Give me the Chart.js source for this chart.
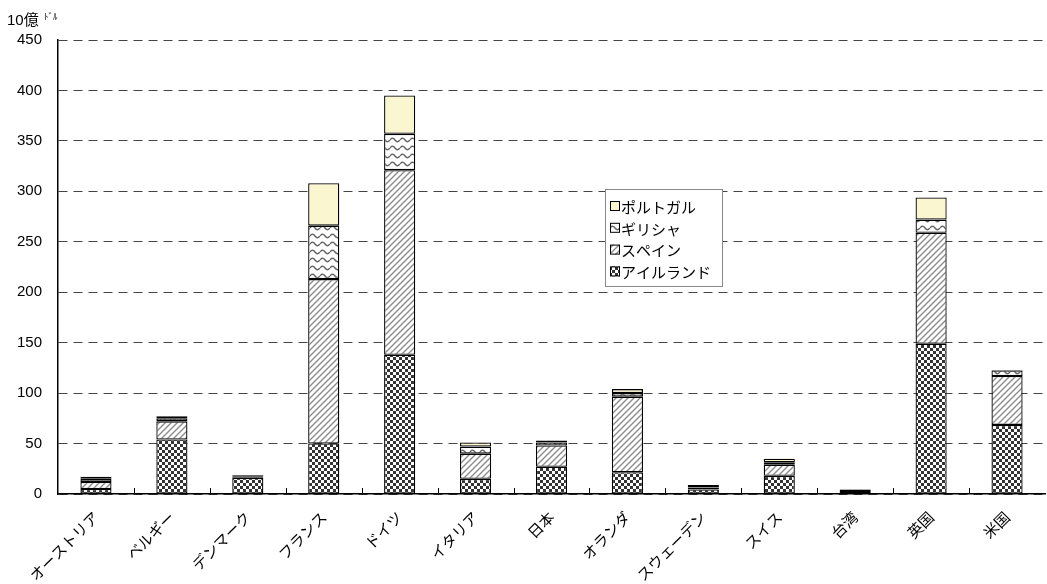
<!DOCTYPE html>
<html>
<head>
<meta charset="utf-8">
<script src="https://cdn.jsdelivr.net/npm/chart.js@4/dist/chart.umd.min.js"></script>
<style>
  html, body { margin: 0; padding: 0; background: #fff; }
  #wrap { width: 1047px; height: 584px; position: relative; }
</style>
</head>
<body>
<div id="wrap"><canvas id="c" width="1047" height="584"></canvas></div>
<script>
// カテゴリ
const countries = ["オーストリア", "ベルギー", "デンマーク", "フランス", "ドイツ", "イタリア", "日本", "オランダ", "スウェーデン", "スイス", "台湾", "英国", "米国"];

// 系列（10億ドル）
const ireland  = [5, 54, 16, 50, 138, 15, 27, 21.5, 4.5, 18, 3, 149, 68.5];
const spain    = [7, 18, 1.5, 163, 183, 25, 21, 75, 2, 11, 1, 110, 48.5];
const greece   = [3, 3, 0.7, 53, 36, 7, 3, 3.5, 1.5, 2.5, 0.3, 13, 5.5];
const portugal = [2, 2, 0.7, 42, 38, 4, 2, 4, 1, 3.5, 0.3, 22, 0.5];

const yTicks = [0, 50, 100, 150, 200, 250, 300, 350, 400, 450];

const FONT = "'Liberation Sans', 'Noto Sans CJK JP', sans-serif";

function makePattern(w, h, draw) {
  const c = document.createElement("canvas");
  c.width = w; c.height = h;
  const g = c.getContext("2d");
  g.fillStyle = "#fff";
  g.fillRect(0, 0, w, h);
  draw(g);
  return g.createPattern(c, "repeat");
}

// アイルランド: 市松模様
const checker = makePattern(6, 6, g => {
  g.fillStyle = "#333";
  g.fillRect(0, 0, 3, 3);
  g.fillRect(3, 3, 3, 3);
});

// スペイン: 斜線
const hatch = makePattern(6, 6, g => {
  g.strokeStyle = "#8c8c8c";
  g.lineWidth = 1.4;
  g.beginPath();
  g.moveTo(-1, 7); g.lineTo(7, -1);
  g.moveTo(-4, 4); g.lineTo(4, -4);
  g.moveTo(2, 10); g.lineTo(10, 2);
  g.stroke();
});

// ギリシャ: 波線
const wave = makePattern(10, 8, g => {
  g.strokeStyle = "#666";
  g.lineWidth = 1.4;
  g.beginPath();
  g.moveTo(0, 4);
  g.quadraticCurveTo(2.5, 0.5, 5, 4);
  g.quadraticCurveTo(7.5, 7.5, 10, 4);
  g.stroke();
});

const portugalFill = "#faf6d0";

const datasets = [
  { label: "アイルランド", data: ireland, backgroundColor: checker },
  { label: "スペイン", data: spain, backgroundColor: hatch },
  { label: "ギリシャ", data: greece, backgroundColor: wave },
  { label: "ポルトガル", data: portugal, backgroundColor: portugalFill }
].map(d => Object.assign(d, {
  borderColor: "#000",
  borderWidth: 1.3,
  borderSkipped: false,
  categoryPercentage: 1,
  barPercentage: 0.41
}));

// 凡例・単位・目盛り
const extras = {
  id: "extras",
  afterDraw(chart) {
    const ctx = chart.ctx;
    const x = chart.scales.x;
    const area = chart.chartArea;
    ctx.save();

    // x軸の内向き目盛り
    ctx.strokeStyle = "#000";
    ctx.lineWidth = 1;
    for (let i = 1; i < countries.length; i++) {
      const px = Math.round((x.getPixelForValue(i - 1) + x.getPixelForValue(i)) / 2) + 0.5;
      ctx.beginPath();
      ctx.moveTo(px, area.bottom);
      ctx.lineTo(px, area.bottom - 6);
      ctx.stroke();
    }

    // 単位
    ctx.fillStyle = "#000";
    ctx.textBaseline = "alphabetic";
    ctx.font = "15px " + FONT;
    ctx.fillText("10億", 7, 25);
    ctx.font = "9px 'Noto Sans CJK JP'";
    ctx.fillText("ﾄﾞﾙ", 44, 20);

    // 凡例
    const lx = 605, ly = 189, lw = 117, lh = 97;
    ctx.fillStyle = "#fff";
    ctx.fillRect(lx, ly, lw, lh);
    ctx.strokeStyle = "#888";
    ctx.strokeRect(lx + 0.5, ly + 0.5, lw, lh);
    ctx.font = "15px 'Noto Sans CJK JP'";
    ctx.textBaseline = "middle";
    const items = chart.data.datasets.slice().reverse();
    items.forEach((d, i) => {
      const cy = 206 + i * 21.8;
      ctx.fillStyle = d.backgroundColor;
      ctx.fillRect(610, cy - 5, 10, 10);
      ctx.strokeStyle = "#000";
      ctx.lineWidth = 1;
      ctx.strokeRect(610.5, cy - 4.5, 9, 9);
      ctx.fillStyle = "#000";
      ctx.fillText(d.label, 621, cy + 1);
    });
    ctx.restore();
  }
};

new Chart(document.getElementById("c"), {
  type: "bar",
  data: { labels: countries, datasets },
  options: {
    responsive: false,
    animation: false,
    layout: { padding: { top: 40, right: 2, left: 0, bottom: 0 } },
    plugins: {
      legend: { display: false },
      tooltip: { enabled: false }
    },
    scales: {
      x: {
        stacked: true,
        grid: { display: false },
        border: { display: true, color: "#000", width: 1.5 },
        ticks: {
          color: "#000",
          font: { family: "'Noto Sans CJK JP'", size: 15 },
          minRotation: 45,
          maxRotation: 45,
          padding: 6
        },
        afterFit(s) { s.height = 90; }
      },
      y: {
        stacked: true,
        min: 0,
        max: 450,
        afterBuildTicks(s) { s.ticks = yTicks.map(v => ({ value: v })); },
        grid: {
          color: "#444",
          lineWidth: 1,
          drawTicks: false
        },
        border: { display: true, color: "#000", width: 1.5, dash: [9, 6] },
        ticks: {
          color: "#000",
          font: { family: FONT, size: 15 },
          padding: 16
        },
        afterFit(s) { s.width = 58; }
      }
    }
  },
  plugins: [extras]
});
</script>
</body>
</html>
